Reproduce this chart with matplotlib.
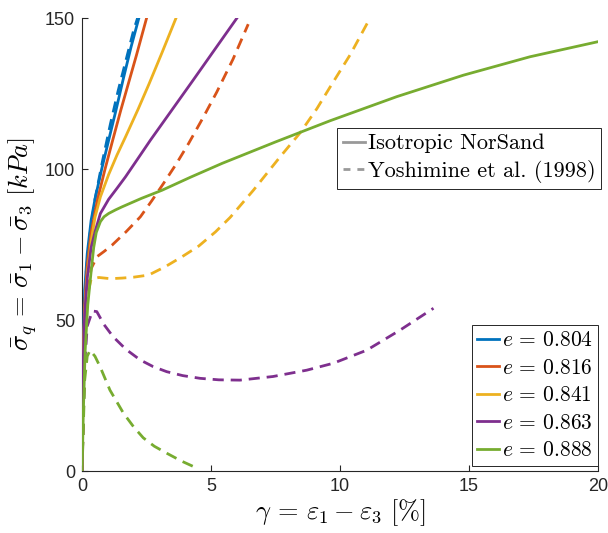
import matplotlib
matplotlib.use("Agg")
import matplotlib.pyplot as plt
from matplotlib.lines import Line2D

# void ratios and MATLAB default colour order
void_ratios = ["0.804", "0.816", "0.841", "0.863", "0.888"]
cores = ["#0072BD", "#D95319", "#EDB120", "#7E2F8E", "#77AC30"]

# Isotropic NorSand (solid), gamma [%] vs q [kPa]
ns_x_804 = [0, 0.02, 0.05, 0.1, 0.2, 0.35, 0.5, 0.76, 1.0, 1.3, 1.6, 1.9, 2.2]
ns_y_804 = [0, 25, 45, 60, 72, 83, 90, 100, 108.5, 119, 130, 140.5, 150]
ns_x_816 = [0, 0.02, 0.05, 0.1, 0.2, 0.35, 0.6, 0.89, 1.2, 1.5, 1.8, 2.1, 2.5]
ns_y_816 = [0, 22, 40, 55, 68, 79, 90, 100, 110, 119.5, 128.5, 137.5, 150]
ns_x_841 = [0, 0.02, 0.05, 0.1, 0.2, 0.35, 0.5, 0.71, 1.03, 1.35, 1.68, 2.17, 2.6, 3.1, 3.64]
ns_y_841 = [0, 20, 38, 52, 65, 76, 84, 90.8, 98.2, 104.6, 110.6, 119.8, 128.3, 138.6, 150]
ns_x_863 = [0, 0.02, 0.05, 0.1, 0.2, 0.35, 0.52, 0.71, 1.03, 1.35, 1.68, 2.15, 2.65, 3.5, 4.3, 5.1, 6.0]
ns_y_863 = [0, 20, 38, 52, 64, 74, 79.8, 85.3, 90.0, 93.6, 97.4, 103.3, 109.6, 119.8, 129.4, 139.1, 150]
ns_x_888 = [0, 0.05, 0.12, 0.22, 0.35, 0.45, 0.55, 0.71, 0.85, 1.03, 1.3, 1.55, 2.3, 3.1,
            4.2, 5.43, 7.5, 9.61, 12.2, 14.78, 17.36, 20]
ns_y_888 = [0, 20, 40, 55, 66, 74, 79, 82.6, 84.2, 85.3, 86.5, 87.5, 90.3, 93,
            97.3, 101.9, 109, 116, 124, 131.1, 137.2, 142.2]

# Yoshimine et al. (1998) (dashed)
yo_x_804 = [0, 0.03, 0.08, 0.15, 0.3, 0.5, 0.8, 1.1, 1.4, 1.7, 2.0, 2.15]
yo_y_804 = [0, 30, 52, 65, 78, 90, 103, 115, 126, 136, 146, 150]
yo_x_816 = [0, 0.1, 0.2, 0.35, 0.58, 0.85, 1.16, 1.7, 2.26, 2.7, 3.16, 3.65, 4.13, 4.7, 5.22, 5.85, 6.44]
yo_y_816 = [0, 40, 58, 67, 71, 72.7, 74.8, 79.2, 84.2, 89.5, 95.3, 101.7, 108.5, 117.2, 125.5, 136.4, 148]
yo_x_841 = [0, 0.1, 0.2, 0.35, 0.65, 1.1, 1.55, 2.0, 2.58, 3.23, 3.88, 4.52, 5.17, 5.74, 6.64,
            7.67, 8.45, 9.1, 9.6, 10.4, 11.16]
yo_y_841 = [0, 40, 58, 63.5, 64.1, 63.7, 63.9, 64.2, 64.9, 67.7, 71, 74.5, 79.2, 84, 93,
            104, 112, 120, 127, 138, 150]
yo_x_863 = [0, 0.1, 0.2, 0.4, 0.57, 0.85, 1.2, 1.7, 2.25, 2.75, 3.28, 3.9, 4.57, 5.3, 6.12,
            7.4, 8.71, 9.74, 11.03, 12.33, 13.62]
yo_y_863 = [0, 35, 48, 53, 52.8, 48.5, 44.5, 40.3, 36.8, 34.6, 32.9, 31.6, 30.7, 30.2, 30.1,
            31.3, 33.4, 35.7, 40, 46.7, 53.9]
yo_x_888 = [0, 0.1, 0.2, 0.31, 0.5, 0.7, 1.08, 1.6, 2.0, 2.37, 2.8, 3.28, 3.85, 4.44]
yo_y_888 = [0, 30, 38, 40, 38, 34.5, 26.8, 19.2, 14.6, 11, 8.2, 5.9, 3.3, 1]

norsand = [(ns_x_804, ns_y_804), (ns_x_816, ns_y_816), (ns_x_841, ns_y_841),
           (ns_x_863, ns_y_863), (ns_x_888, ns_y_888)]
yoshimine = [(yo_x_804, yo_y_804), (yo_x_816, yo_y_816), (yo_x_841, yo_y_841),
             (yo_x_863, yo_y_863), (yo_x_888, yo_y_888)]

plt.rcParams['mathtext.fontset'] = 'cm'
plt.rcParams['font.family'] = ['Liberation Sans', 'DejaVu Sans']

fig = plt.figure(figsize=(6.08, 5.33), dpi=100)
ax = fig.add_axes([0.135, 0.1163, 0.8487, 0.8497])

cor_eixo = "#262626"
lw = 2.0

linhas_e = []
for (x, y), cor in zip(norsand, cores):
    h, = ax.plot(x, y, '-', color=cor, lw=lw, zorder=3)
    linhas_e.append(h)
for (x, y), cor in zip(yoshimine, cores):
    ax.plot(x, y, '--', color=cor, lw=lw, dashes=(4, 2.5), zorder=2)

ax.set_xlim(0, 20)
ax.set_ylim(0, 150)
ax.set_xticks([0, 5, 10, 15, 20])
ax.set_yticks([0, 50, 100, 150])
ax.tick_params(direction='in', length=4, width=0.8, labelsize=13,
               colors=cor_eixo, pad=5)
for lado in ['top', 'right']:
    ax.spines[lado].set_visible(False)
for lado in ['left', 'bottom']:
    ax.spines[lado].set_color(cor_eixo)
    ax.spines[lado].set_linewidth(0.8)

ax.set_xlabel(r'$\gamma\,=\,\varepsilon_1 - \varepsilon_3\ [\%]$', fontsize=19, labelpad=2)
ax.set_ylabel(r'$\bar{\sigma}_q\,=\,\bar{\sigma}_1 - \bar{\sigma}_3\ [kPa]$', fontsize=19, labelpad=4)

# legenda dos modelos (linhas cinzentas)
cinza = "#999999"
h_estilo = [Line2D([], [], color=cinza, lw=lw, ls='-'),
            Line2D([], [], color=cinza, lw=lw, ls='--', dashes=(2.5, 2.5))]
leg1 = ax.legend(h_estilo, ['Isotropic NorSand', 'Yoshimine et al. (1998)'],
                 loc='upper left', bbox_to_anchor=(0.494, 0.757),
                 prop={'family': 'cmr10', 'size': 16},
                 frameon=True, fancybox=False, edgecolor=cor_eixo,
                 handlelength=1.0, handletextpad=0.15, labelspacing=0.3,
                 borderpad=0.25, borderaxespad=0, framealpha=1)
leg1.get_frame().set_linewidth(0.7)
ax.add_artist(leg1)

# legenda dos indices de vazios
leg2 = ax.legend(linhas_e, [rf'$e\,=\,{e}$' for e in void_ratios],
                 loc='lower right', bbox_to_anchor=(1.0, 0.01),
                 fontsize=15.5, frameon=True, fancybox=False,
                 edgecolor=cor_eixo, handlelength=1.0, handletextpad=0.15,
                 labelspacing=0.3, borderpad=0.25, borderaxespad=0,
                 framealpha=1)
leg2.get_frame().set_linewidth(0.7)

fig.savefig('out.png', dpi=100)
